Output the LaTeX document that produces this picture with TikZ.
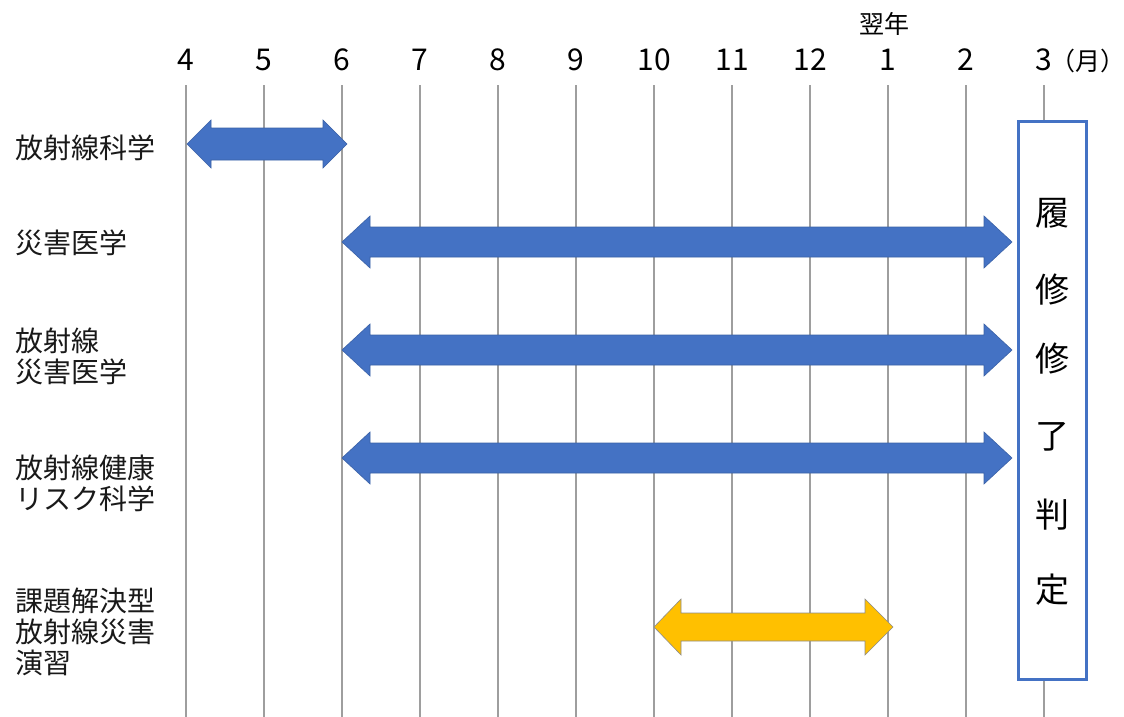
\documentclass[tikz,border=0pt]{standalone}
\usepackage{fontspec}
\setmainfont{Noto Sans CJK JP}
\begin{document}
\begin{tikzpicture}[x=1pt,y=-1pt,
  grid/.style={draw=black!38,line width=1.1pt},
  month/.style={font=\fontsize{30}{34}\selectfont,inner sep=0pt},
  course/.style={font=\fontsize{28}{31}\selectfont,align=left,anchor=west,inner sep=0pt,text=black!90},
  bluearrow/.style={fill=arrowblue,draw=arrowblue!85!black,line width=0.6pt},
  yellowarrow/.style={fill=arrowyellow,draw=black!45,line width=0.6pt},
  judgebox/.style={draw=arrowblue,line width=3pt,fill=white},
  judgechar/.style={font=\fontsize{34}{36}\selectfont,inner sep=0pt}]
\definecolor{arrowblue}{HTML}{4472C4}
\definecolor{arrowyellow}{HTML}{FFC000}
\useasboundingbox (0,0) rectangle (1124,717);
\fill[white] (0,0) rectangle (1124,717);
% vertical month lines
\foreach \m/\lab [count=\i from 0] in {a/4,b/5,c/6,d/7,e/8,f/9,g/10,h/11,k/12,l/1,n/2,p/3}{
  \coordinate (top\m) at (186+78*\i,85);
  \coordinate (bot\m) at (186+78*\i,717);
  \draw[grid] (top\m) -- (bot\m);
  \node[month] (lab\m) at (186+78*\i,60) {\lab};
}
\node[font=\fontsize{25}{28}\selectfont,inner sep=0pt,anchor=west] (unit) at (1050,61) {（月）};
\node[font=\fontsize{25}{28}\selectfont,inner sep=0pt] (nextyear) at (884,24) {翌年};
% course labels
\node[course] (c1) at (15,148) {放射線科学};
\node[course] (c2) at (15,243) {災害医学};
\node[course] (c3) at (15,356) {放射線\\災害医学};
\node[course] (c4) at (15,483) {放射線健康\\リスク科学};
\node[course] (c5) at (15,632) {課題解決型\\放射線災害\\演習};
% double arrows
\fill[bluearrow] (187,144) -- (211,120) -- (211,128) -- (323,128) -- (323,120) -- (347,144) -- (323,168) -- (323,160) -- (211,160) -- (211,168) -- cycle;
\foreach \y in {242,350,458}{
  \fill[bluearrow] (342,\y) -- (370,\y-26) -- (370,\y-15) -- (984,\y-15) -- (984,\y-26) -- (1012,\y) -- (984,\y+26) -- (984,\y+15) -- (370,\y+15) -- (370,\y+26) -- cycle;
}
\fill[yellowarrow] (654,627) -- (681,599) -- (681,613) -- (865,613) -- (865,599) -- (893,627) -- (865,655) -- (865,641) -- (681,641) -- (681,655) -- cycle;
% judgement box
\node[judgebox,minimum width=68pt,minimum height=558pt,inner sep=0pt] (judge) at (1052,400) {};
\foreach \ch/\yy [count=\j] in {履/213,修/290,修/359,了/437,判/515,定/590}{
  \node[judgechar] (j\j) at (1052,\yy) {\ch};
}
\end{tikzpicture}
\end{document}
